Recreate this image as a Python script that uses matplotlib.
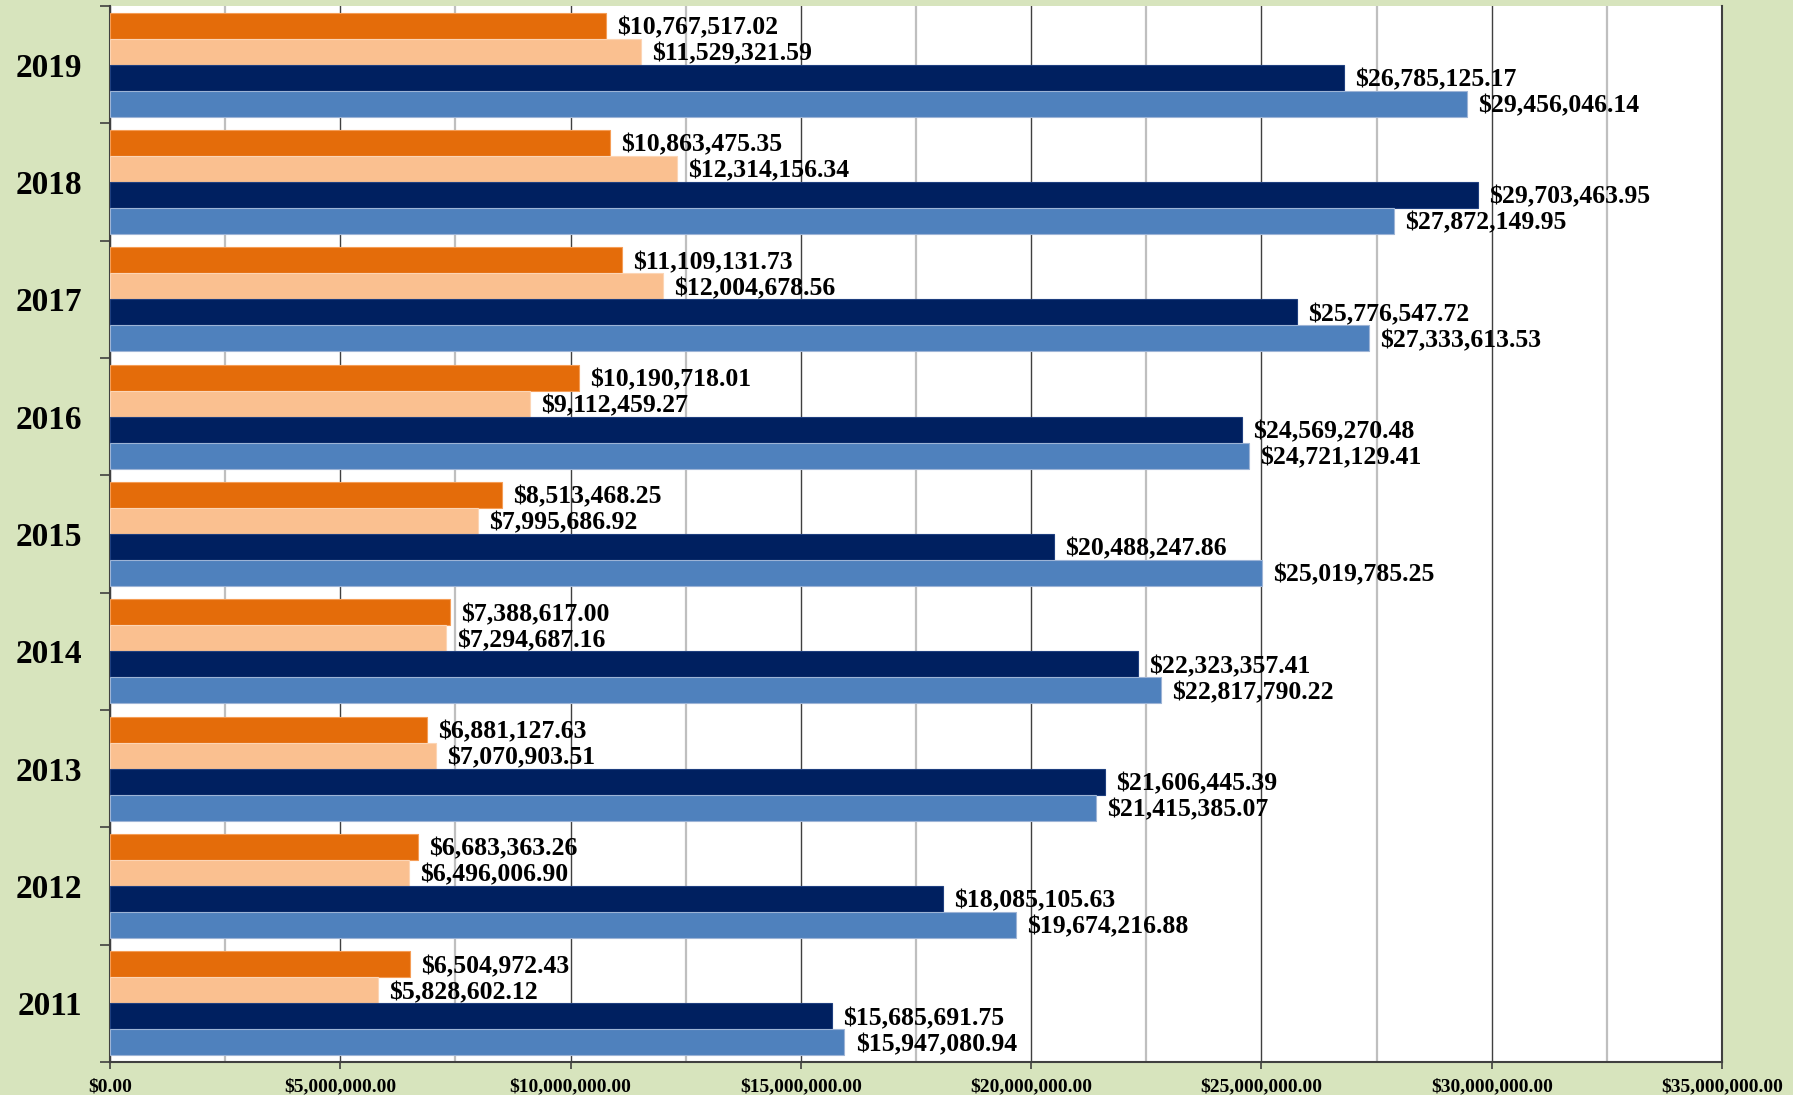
import numpy as np
import matplotlib
matplotlib.use("Agg")
import matplotlib.pyplot as plt
from matplotlib.ticker import MultipleLocator, FuncFormatter

years = ["2011", "2012", "2013", "2014", "2015", "2016", "2017", "2018", "2019"]

# series, listed from top bar to bottom bar inside each year group
orange_vals = [6504972.43, 6683363.26, 6881127.63, 7388617.00, 8513468.25,
               10190718.01, 11109131.73, 10863475.35, 10767517.02]
peach_vals = [5828602.12, 6496006.90, 7070903.51, 7294687.16, 7995686.92,
              9112459.27, 12004678.56, 12314156.34, 11529321.59]
navy_vals = [15685691.75, 18085105.63, 21606445.39, 22323357.41, 20488247.86,
             24569270.48, 25776547.72, 29703463.95, 26785125.17]
blue_vals = [15947080.94, 19674216.88, 21415385.07, 22817790.22, 25019785.25,
             24721129.41, 27333613.53, 27872149.95, 29456046.14]

series = [orange_vals, peach_vals, navy_vals, blue_vals]
colors = ["#E46C0A", "#FAC090", "#002060", "#4F81BD"]
edges = ["#F59D56", "#FCD5B5", "#1F3F7F", "#9DB4D6"]

plt.rcParams["font.family"] = ["Liberation Serif", "DejaVu Serif"]
plt.rcParams["font.weight"] = "bold"

fig = plt.figure(figsize=(17.93, 10.95), dpi=100, facecolor="#D7E4BD")
ax = fig.add_axes([110 / 1793, 1 - 1062 / 1095, (1722 - 110) / 1793, (1062 - 6) / 1095])
ax.set_facecolor("white")

y = np.arange(len(years))
h = 0.222
offsets = [1.5 * h, 0.5 * h, -0.5 * h, -1.5 * h]

for vals, off, c, ec in zip(series, offsets, colors, edges):
    ax.barh(y + off, vals, height=h, color=c, edgecolor=ec, linewidth=0.8, zorder=3)
    for yi, v in zip(y, vals):
        ax.annotate(f"${v:,.2f}", xy=(v, yi + off), xytext=(8, -1.5), textcoords="offset points",
                    va="center", ha="left", fontsize=18.5, fontweight="bold", color="black", zorder=5)

ax.set_xlim(0, 35000000)
ax.set_ylim(-0.5, len(years) - 0.5)

ax.xaxis.set_major_locator(MultipleLocator(5000000))
ax.xaxis.set_minor_locator(MultipleLocator(2500000))
ax.xaxis.set_major_formatter(FuncFormatter(lambda v, p: f"${v:,.2f}"))
ax.grid(True, which="major", axis="x", color="#404040", linewidth=1.0, zorder=0)
ax.grid(True, which="minor", axis="x", color="#BFBFBF", linewidth=1.6, zorder=0)
ax.tick_params(axis="x", which="major", length=5, width=1.2, color="#404040", pad=7,
               labelsize=14)
ax.tick_params(axis="x", which="minor", length=0)
for lab in ax.get_xticklabels():
    lab.set_fontweight("bold")

# year boundaries as major ticks, year names on minor ticks
ax.set_yticks(np.arange(-0.5, len(years), 1.0))
ax.set_yticklabels([])
ax.set_yticks(y, minor=True)
ax.set_yticklabels(years, minor=True, fontsize=24, fontweight="bold")
ax.tick_params(axis="y", which="major", length=7, width=1.2, color="#404040")
ax.tick_params(axis="y", which="minor", length=0, pad=20)

for side in ["left", "bottom", "right"]:
    ax.spines[side].set_color("#404040")
    ax.spines[side].set_linewidth(1.5)
ax.spines["top"].set_visible(False)

fig.savefig("out.png", dpi=100, facecolor=fig.get_facecolor())
